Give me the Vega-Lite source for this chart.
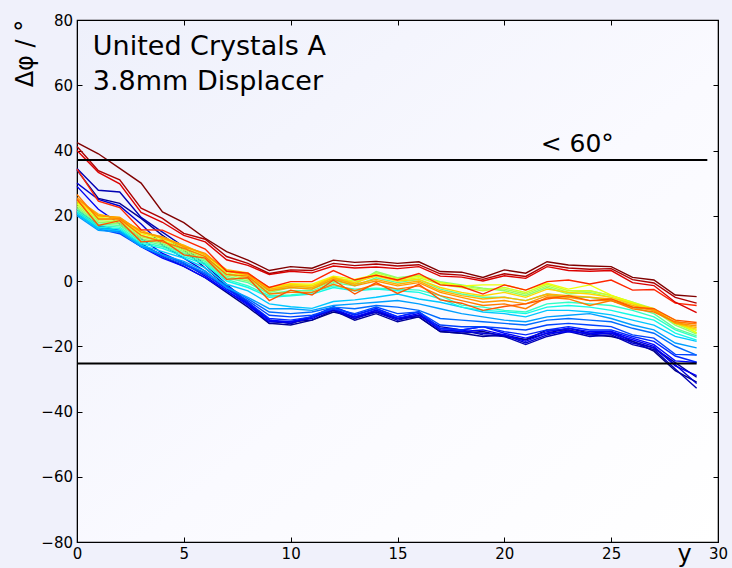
{
"$schema": "https://vega.github.io/schema/vega-lite/v6.json",
"width": 641, "height": 522,
"autosize": {"type": "none"},
"padding": {"left": 77, "top": 20, "right": 14, "bottom": 26},
"background": "#f0f1fb",
"config": {
 "view": {"stroke": "black", "strokeWidth": 1.2, "fill": {"gradient": "linear", "x1": 0, "y1": 0, "x2": 1, "y2": 1, "stops": [{"offset": 0, "color": "#eef0fb"}, {"offset": 0.55, "color": "#fafaff"}, {"offset": 1, "color": "#ffffff"}]}},
 "axis": {"labelFont": "DejaVu Sans", "labelFontSize": 15, "labelColor": "black", "titleFont": "DejaVu Sans", "titleFontSize": 24, "titleFontWeight": "normal", "titleColor": "black", "grid": false, "domainColor": "black", "tickColor": "black", "tickSize": -5, "tickWidth": 1, "labelPadding": 9.5, "labelFlush": false},
 "text": {"font": "DejaVu Sans", "color": "black"}
},
"resolve": {"axis": {"x": "independent", "y": "independent"}},
"layer": [
{
 "data": {"values": [
{"c":0,"x":0,"y":21.0},{"c":0,"x":1,"y":16.5},{"c":0,"x":2,"y":15.0},{"c":0,"x":3,"y":11.5},{"c":0,"x":4,"y":7.5},{"c":0,"x":5,"y":4.5},{"c":0,"x":6,"y":1.0},{"c":0,"x":7,"y":-3.5},{"c":0,"x":8,"y":-8.0},{"c":0,"x":9,"y":-13.0},{"c":0,"x":10,"y":-12.5},{"c":0,"x":11,"y":-12.0},{"c":0,"x":12,"y":-9.5},{"c":0,"x":13,"y":-11.0},{"c":0,"x":14,"y":-9.5},{"c":0,"x":15,"y":-11.5},{"c":0,"x":16,"y":-11.0},{"c":0,"x":17,"y":-15.5},{"c":0,"x":18,"y":-16.0},{"c":0,"x":19,"y":-15.5},{"c":0,"x":20,"y":-17.0},{"c":0,"x":21,"y":-18.0},{"c":0,"x":22,"y":-15.0},{"c":0,"x":23,"y":-15.0},{"c":0,"x":24,"y":-16.5},{"c":0,"x":25,"y":-17.0},{"c":0,"x":26,"y":-18.5},{"c":0,"x":27,"y":-21.5},{"c":0,"x":28,"y":-27.5},{"c":0,"x":29,"y":-31.0},
{"c":0.02,"x":0,"y":34.0},{"c":0.02,"x":1,"y":25.3},{"c":0.02,"x":2,"y":23.8},{"c":0.02,"x":3,"y":19.2},{"c":0.02,"x":4,"y":14.0},{"c":0.02,"x":5,"y":9.5},{"c":0.02,"x":6,"y":4.0},{"c":0.02,"x":7,"y":-1.5},{"c":0.02,"x":8,"y":-7.0},{"c":0.02,"x":9,"y":-13.0},{"c":0.02,"x":10,"y":-13.5},{"c":0.02,"x":11,"y":-12.0},{"c":0.02,"x":12,"y":-9.0},{"c":0.02,"x":13,"y":-12.0},{"c":0.02,"x":14,"y":-10.0},{"c":0.02,"x":15,"y":-12.5},{"c":0.02,"x":16,"y":-11.0},{"c":0.02,"x":17,"y":-15.5},{"c":0.02,"x":18,"y":-16.0},{"c":0.02,"x":19,"y":-17.0},{"c":0.02,"x":20,"y":-16.5},{"c":0.02,"x":21,"y":-18.0},{"c":0.02,"x":22,"y":-16.0},{"c":0.02,"x":23,"y":-14.5},{"c":0.02,"x":24,"y":-16.0},{"c":0.02,"x":25,"y":-15.5},{"c":0.02,"x":26,"y":-18.5},{"c":0.02,"x":27,"y":-20.5},{"c":0.02,"x":28,"y":-25.0},{"c":0.02,"x":29,"y":-29.5},
{"c":0.045,"x":0,"y":34.5},{"c":0.045,"x":1,"y":27.8},{"c":0.045,"x":2,"y":27.3},{"c":0.045,"x":3,"y":19.5},{"c":0.045,"x":4,"y":15.0},{"c":0.045,"x":5,"y":10.5},{"c":0.045,"x":6,"y":5.0},{"c":0.045,"x":7,"y":-1.0},{"c":0.045,"x":8,"y":-6.5},{"c":0.045,"x":9,"y":-12.0},{"c":0.045,"x":10,"y":-13.0},{"c":0.045,"x":11,"y":-11.0},{"c":0.045,"x":12,"y":-8.5},{"c":0.045,"x":13,"y":-11.5},{"c":0.045,"x":14,"y":-9.0},{"c":0.045,"x":15,"y":-11.5},{"c":0.045,"x":16,"y":-10.5},{"c":0.045,"x":17,"y":-14.0},{"c":0.045,"x":18,"y":-15.0},{"c":0.045,"x":19,"y":-16.5},{"c":0.045,"x":20,"y":-17.0},{"c":0.045,"x":21,"y":-19.5},{"c":0.045,"x":22,"y":-17.0},{"c":0.045,"x":23,"y":-15.5},{"c":0.045,"x":24,"y":-17.0},{"c":0.045,"x":25,"y":-16.5},{"c":0.045,"x":26,"y":-19.5},{"c":0.045,"x":27,"y":-21.0},{"c":0.045,"x":28,"y":-27.0},{"c":0.045,"x":29,"y":-32.9},
{"c":0.07,"x":0,"y":30.0},{"c":0.07,"x":1,"y":25.0},{"c":0.07,"x":2,"y":23.0},{"c":0.07,"x":3,"y":17.5},{"c":0.07,"x":4,"y":11.0},{"c":0.07,"x":5,"y":7.0},{"c":0.07,"x":6,"y":3.0},{"c":0.07,"x":7,"y":-2.0},{"c":0.07,"x":8,"y":-7.0},{"c":0.07,"x":9,"y":-12.0},{"c":0.07,"x":10,"y":-13.0},{"c":0.07,"x":11,"y":-11.0},{"c":0.07,"x":12,"y":-9.0},{"c":0.07,"x":13,"y":-11.5},{"c":0.07,"x":14,"y":-9.5},{"c":0.07,"x":15,"y":-12.0},{"c":0.07,"x":16,"y":-10.5},{"c":0.07,"x":17,"y":-15.0},{"c":0.07,"x":18,"y":-15.5},{"c":0.07,"x":19,"y":-16.0},{"c":0.07,"x":20,"y":-16.5},{"c":0.07,"x":21,"y":-19.0},{"c":0.07,"x":22,"y":-16.5},{"c":0.07,"x":23,"y":-15.0},{"c":0.07,"x":24,"y":-16.5},{"c":0.07,"x":25,"y":-16.0},{"c":0.07,"x":26,"y":-19.0},{"c":0.07,"x":27,"y":-20.5},{"c":0.07,"x":28,"y":-25.7},{"c":0.07,"x":29,"y":-31.4},
{"c":0.1,"x":0,"y":29.0},{"c":0.1,"x":1,"y":22.0},{"c":0.1,"x":2,"y":17.5},{"c":0.1,"x":3,"y":13.0},{"c":0.1,"x":4,"y":8.5},{"c":0.1,"x":5,"y":5.5},{"c":0.1,"x":6,"y":1.5},{"c":0.1,"x":7,"y":-3.0},{"c":0.1,"x":8,"y":-7.5},{"c":0.1,"x":9,"y":-12.5},{"c":0.1,"x":10,"y":-12.5},{"c":0.1,"x":11,"y":-11.5},{"c":0.1,"x":12,"y":-8.5},{"c":0.1,"x":13,"y":-11.0},{"c":0.1,"x":14,"y":-9.0},{"c":0.1,"x":15,"y":-11.5},{"c":0.1,"x":16,"y":-10.0},{"c":0.1,"x":17,"y":-15.0},{"c":0.1,"x":18,"y":-15.5},{"c":0.1,"x":19,"y":-15.0},{"c":0.1,"x":20,"y":-16.5},{"c":0.1,"x":21,"y":-18.5},{"c":0.1,"x":22,"y":-16.0},{"c":0.1,"x":23,"y":-15.5},{"c":0.1,"x":24,"y":-16.0},{"c":0.1,"x":25,"y":-16.0},{"c":0.1,"x":26,"y":-18.0},{"c":0.1,"x":27,"y":-20.0},{"c":0.1,"x":28,"y":-26.0},{"c":0.1,"x":29,"y":-29.0},
{"c":0.13,"x":0,"y":22.0},{"c":0.13,"x":1,"y":17.0},{"c":0.13,"x":2,"y":15.0},{"c":0.13,"x":3,"y":10.5},{"c":0.13,"x":4,"y":7.0},{"c":0.13,"x":5,"y":4.5},{"c":0.13,"x":6,"y":1.0},{"c":0.13,"x":7,"y":-3.0},{"c":0.13,"x":8,"y":-7.0},{"c":0.13,"x":9,"y":-12.0},{"c":0.13,"x":10,"y":-12.5},{"c":0.13,"x":11,"y":-10.9},{"c":0.13,"x":12,"y":-7.9},{"c":0.13,"x":13,"y":-10.4},{"c":0.13,"x":14,"y":-8.4},{"c":0.13,"x":15,"y":-10.9},{"c":0.13,"x":16,"y":-9.4},{"c":0.13,"x":17,"y":-14.5},{"c":0.13,"x":18,"y":-15.0},{"c":0.13,"x":19,"y":-14.0},{"c":0.13,"x":20,"y":-16.0},{"c":0.13,"x":21,"y":-17.5},{"c":0.13,"x":22,"y":-15.5},{"c":0.13,"x":23,"y":-14.5},{"c":0.13,"x":24,"y":-15.5},{"c":0.13,"x":25,"y":-15.5},{"c":0.13,"x":26,"y":-17.5},{"c":0.13,"x":27,"y":-19.5},{"c":0.13,"x":28,"y":-24.5},{"c":0.13,"x":29,"y":-25.0},
{"c":0.16,"x":0,"y":21.5},{"c":0.16,"x":1,"y":17.0},{"c":0.16,"x":2,"y":15.5},{"c":0.16,"x":3,"y":11.0},{"c":0.16,"x":4,"y":8.0},{"c":0.16,"x":5,"y":5.5},{"c":0.16,"x":6,"y":2.0},{"c":0.16,"x":7,"y":-2.5},{"c":0.16,"x":8,"y":-6.5},{"c":0.16,"x":9,"y":-11.5},{"c":0.16,"x":10,"y":-12.0},{"c":0.16,"x":11,"y":-11.0},{"c":0.16,"x":12,"y":-8.0},{"c":0.16,"x":13,"y":-10.5},{"c":0.16,"x":14,"y":-8.5},{"c":0.16,"x":15,"y":-11.0},{"c":0.16,"x":16,"y":-9.5},{"c":0.16,"x":17,"y":-14.5},{"c":0.16,"x":18,"y":-15.0},{"c":0.16,"x":19,"y":-14.0},{"c":0.16,"x":20,"y":-15.5},{"c":0.16,"x":21,"y":-16.5},{"c":0.16,"x":22,"y":-15.0},{"c":0.16,"x":23,"y":-14.0},{"c":0.16,"x":24,"y":-15.0},{"c":0.16,"x":25,"y":-15.0},{"c":0.16,"x":26,"y":-17.0},{"c":0.16,"x":27,"y":-18.5},{"c":0.16,"x":28,"y":-23.0},{"c":0.16,"x":29,"y":-24.9},
{"c":0.19,"x":0,"y":20.5},{"c":0.19,"x":1,"y":16.0},{"c":0.19,"x":2,"y":14.5},{"c":0.19,"x":3,"y":10.5},{"c":0.19,"x":4,"y":7.5},{"c":0.19,"x":5,"y":5.0},{"c":0.19,"x":6,"y":2.0},{"c":0.19,"x":7,"y":-2.0},{"c":0.19,"x":8,"y":-6.0},{"c":0.19,"x":9,"y":-10.5},{"c":0.19,"x":10,"y":-11.0},{"c":0.19,"x":11,"y":-10.5},{"c":0.19,"x":12,"y":-8.5},{"c":0.19,"x":13,"y":-10.0},{"c":0.19,"x":14,"y":-8.0},{"c":0.19,"x":15,"y":-10.0},{"c":0.19,"x":16,"y":-9.5},{"c":0.19,"x":17,"y":-13.5},{"c":0.19,"x":18,"y":-14.0},{"c":0.19,"x":19,"y":-14.0},{"c":0.19,"x":20,"y":-14.5},{"c":0.19,"x":21,"y":-15.0},{"c":0.19,"x":22,"y":-13.5},{"c":0.19,"x":23,"y":-13.0},{"c":0.19,"x":24,"y":-13.5},{"c":0.19,"x":25,"y":-14.0},{"c":0.19,"x":26,"y":-16.5},{"c":0.19,"x":27,"y":-17.5},{"c":0.19,"x":28,"y":-22.5},{"c":0.19,"x":29,"y":-22.7},
{"c":0.23,"x":0,"y":21.0},{"c":0.23,"x":1,"y":16.5},{"c":0.23,"x":2,"y":15.0},{"c":0.23,"x":3,"y":11.0},{"c":0.23,"x":4,"y":8.0},{"c":0.23,"x":5,"y":5.5},{"c":0.23,"x":6,"y":2.5},{"c":0.23,"x":7,"y":-1.5},{"c":0.23,"x":8,"y":-5.5},{"c":0.23,"x":9,"y":-9.5},{"c":0.23,"x":10,"y":-10.0},{"c":0.23,"x":11,"y":-9.5},{"c":0.23,"x":12,"y":-8.0},{"c":0.23,"x":13,"y":-8.5},{"c":0.23,"x":14,"y":-7.5},{"c":0.23,"x":15,"y":-8.0},{"c":0.23,"x":16,"y":-9.0},{"c":0.23,"x":17,"y":-11.5},{"c":0.23,"x":18,"y":-12.0},{"c":0.23,"x":19,"y":-12.5},{"c":0.23,"x":20,"y":-13.0},{"c":0.23,"x":21,"y":-13.5},{"c":0.23,"x":22,"y":-12.0},{"c":0.23,"x":23,"y":-11.5},{"c":0.23,"x":24,"y":-12.0},{"c":0.23,"x":25,"y":-12.5},{"c":0.23,"x":26,"y":-14.5},{"c":0.23,"x":27,"y":-16.0},{"c":0.23,"x":28,"y":-20.0},{"c":0.23,"x":29,"y":-22.7},
{"c":0.28,"x":0,"y":20.0},{"c":0.28,"x":1,"y":15.5},{"c":0.28,"x":2,"y":15.0},{"c":0.28,"x":3,"y":10.5},{"c":0.28,"x":4,"y":8.0},{"c":0.28,"x":5,"y":6.0},{"c":0.28,"x":6,"y":3.0},{"c":0.28,"x":7,"y":-2.0},{"c":0.28,"x":8,"y":-5.0},{"c":0.28,"x":9,"y":-8.5},{"c":0.28,"x":10,"y":-8.5},{"c":0.28,"x":11,"y":-9.0},{"c":0.28,"x":12,"y":-7.5},{"c":0.28,"x":13,"y":-7.0},{"c":0.28,"x":14,"y":-6.5},{"c":0.28,"x":15,"y":-6.0},{"c":0.28,"x":16,"y":-7.0},{"c":0.28,"x":17,"y":-8.5},{"c":0.28,"x":18,"y":-10.0},{"c":0.28,"x":19,"y":-11.0},{"c":0.28,"x":20,"y":-12.0},{"c":0.28,"x":21,"y":-12.5},{"c":0.28,"x":22,"y":-11.0},{"c":0.28,"x":23,"y":-10.5},{"c":0.28,"x":24,"y":-10.0},{"c":0.28,"x":25,"y":-11.5},{"c":0.28,"x":26,"y":-13.5},{"c":0.28,"x":27,"y":-15.0},{"c":0.28,"x":28,"y":-19.0},{"c":0.28,"x":29,"y":-20.5},
{"c":0.32,"x":0,"y":20.5},{"c":0.32,"x":1,"y":16.0},{"c":0.32,"x":2,"y":15.5},{"c":0.32,"x":3,"y":11.0},{"c":0.32,"x":4,"y":9.0},{"c":0.32,"x":5,"y":7.0},{"c":0.32,"x":6,"y":4.0},{"c":0.32,"x":7,"y":-1.0},{"c":0.32,"x":8,"y":-3.0},{"c":0.32,"x":9,"y":-7.0},{"c":0.32,"x":10,"y":-7.9},{"c":0.32,"x":11,"y":-8.4},{"c":0.32,"x":12,"y":-6.3},{"c":0.32,"x":13,"y":-5.8},{"c":0.32,"x":14,"y":-5.0},{"c":0.32,"x":15,"y":-4.0},{"c":0.32,"x":16,"y":-5.5},{"c":0.32,"x":17,"y":-6.5},{"c":0.32,"x":18,"y":-8.0},{"c":0.32,"x":19,"y":-9.5},{"c":0.32,"x":20,"y":-10.0},{"c":0.32,"x":21,"y":-11.0},{"c":0.32,"x":22,"y":-9.0},{"c":0.32,"x":23,"y":-9.0},{"c":0.32,"x":24,"y":-9.5},{"c":0.32,"x":25,"y":-10.4},{"c":0.32,"x":26,"y":-12.0},{"c":0.32,"x":27,"y":-13.5},{"c":0.32,"x":28,"y":-17.0},{"c":0.32,"x":29,"y":-18.5},
{"c":0.37,"x":0,"y":21.0},{"c":0.37,"x":1,"y":16.5},{"c":0.37,"x":2,"y":16.0},{"c":0.37,"x":3,"y":11.5},{"c":0.37,"x":4,"y":10.0},{"c":0.37,"x":5,"y":7.5},{"c":0.37,"x":6,"y":5.0},{"c":0.37,"x":7,"y":0.0},{"c":0.37,"x":8,"y":-2.0},{"c":0.37,"x":9,"y":-5.0},{"c":0.37,"x":10,"y":-4.5},{"c":0.37,"x":11,"y":-4.0},{"c":0.37,"x":12,"y":-2.0},{"c":0.37,"x":13,"y":-3.0},{"c":0.37,"x":14,"y":-2.5},{"c":0.37,"x":15,"y":-3.0},{"c":0.37,"x":16,"y":-3.5},{"c":0.37,"x":17,"y":-5.5},{"c":0.37,"x":18,"y":-8.0},{"c":0.37,"x":19,"y":-9.0},{"c":0.37,"x":20,"y":-9.4},{"c":0.37,"x":21,"y":-10.0},{"c":0.37,"x":22,"y":-8.0},{"c":0.37,"x":23,"y":-7.5},{"c":0.37,"x":24,"y":-8.0},{"c":0.37,"x":25,"y":-9.0},{"c":0.37,"x":26,"y":-10.5},{"c":0.37,"x":27,"y":-12.0},{"c":0.37,"x":28,"y":-16.0},{"c":0.37,"x":29,"y":-18.1},
{"c":0.41,"x":0,"y":21.5},{"c":0.41,"x":1,"y":17.0},{"c":0.41,"x":2,"y":16.5},{"c":0.41,"x":3,"y":12.0},{"c":0.41,"x":4,"y":10.5},{"c":0.41,"x":5,"y":8.0},{"c":0.41,"x":6,"y":5.5},{"c":0.41,"x":7,"y":0.5},{"c":0.41,"x":8,"y":-1.5},{"c":0.41,"x":9,"y":-4.5},{"c":0.41,"x":10,"y":-4.3},{"c":0.41,"x":11,"y":-3.5},{"c":0.41,"x":12,"y":-1.5},{"c":0.41,"x":13,"y":-2.5},{"c":0.41,"x":14,"y":-2.2},{"c":0.41,"x":15,"y":-2.5},{"c":0.41,"x":16,"y":-2.8},{"c":0.41,"x":17,"y":-4.5},{"c":0.41,"x":18,"y":-7.4},{"c":0.41,"x":19,"y":-8.0},{"c":0.41,"x":20,"y":-9.0},{"c":0.41,"x":21,"y":-9.5},{"c":0.41,"x":22,"y":-7.0},{"c":0.41,"x":23,"y":-6.5},{"c":0.41,"x":24,"y":-7.0},{"c":0.41,"x":25,"y":-7.5},{"c":0.41,"x":26,"y":-9.0},{"c":0.41,"x":27,"y":-11.0},{"c":0.41,"x":28,"y":-15.0},{"c":0.41,"x":29,"y":-17.3},
{"c":0.46,"x":0,"y":22.0},{"c":0.46,"x":1,"y":17.5},{"c":0.46,"x":2,"y":17.0},{"c":0.46,"x":3,"y":12.5},{"c":0.46,"x":4,"y":11.0},{"c":0.46,"x":5,"y":8.5},{"c":0.46,"x":6,"y":6.0},{"c":0.46,"x":7,"y":1.0},{"c":0.46,"x":8,"y":-0.5},{"c":0.46,"x":9,"y":-4.0},{"c":0.46,"x":10,"y":-3.0},{"c":0.46,"x":11,"y":-3.0},{"c":0.46,"x":12,"y":-0.5},{"c":0.46,"x":13,"y":-1.5},{"c":0.46,"x":14,"y":1.0},{"c":0.46,"x":15,"y":-0.5},{"c":0.46,"x":16,"y":0.5},{"c":0.46,"x":17,"y":-2.5},{"c":0.46,"x":18,"y":-4.0},{"c":0.46,"x":19,"y":-5.0},{"c":0.46,"x":20,"y":-5.0},{"c":0.46,"x":21,"y":-6.0},{"c":0.46,"x":22,"y":-4.0},{"c":0.46,"x":23,"y":-5.0},{"c":0.46,"x":24,"y":-5.0},{"c":0.46,"x":25,"y":-6.0},{"c":0.46,"x":26,"y":-8.0},{"c":0.46,"x":27,"y":-10.0},{"c":0.46,"x":28,"y":-14.5},{"c":0.46,"x":29,"y":-16.8},
{"c":0.52,"x":0,"y":22.5},{"c":0.52,"x":1,"y":18.0},{"c":0.52,"x":2,"y":17.5},{"c":0.52,"x":3,"y":13.0},{"c":0.52,"x":4,"y":11.5},{"c":0.52,"x":5,"y":9.0},{"c":0.52,"x":6,"y":6.5},{"c":0.52,"x":7,"y":1.5},{"c":0.52,"x":8,"y":0.0},{"c":0.52,"x":9,"y":-3.5},{"c":0.52,"x":10,"y":-2.0},{"c":0.52,"x":11,"y":-2.5},{"c":0.52,"x":12,"y":0.0},{"c":0.52,"x":13,"y":-1.0},{"c":0.52,"x":14,"y":2.9},{"c":0.52,"x":15,"y":1.0},{"c":0.52,"x":16,"y":1.8},{"c":0.52,"x":17,"y":-0.2},{"c":0.52,"x":18,"y":-1.2},{"c":0.52,"x":19,"y":-2.2},{"c":0.52,"x":20,"y":-3.0},{"c":0.52,"x":21,"y":-4.5},{"c":0.52,"x":22,"y":-2.0},{"c":0.52,"x":23,"y":-4.0},{"c":0.52,"x":24,"y":-3.5},{"c":0.52,"x":25,"y":-5.0},{"c":0.52,"x":26,"y":-7.0},{"c":0.52,"x":27,"y":-9.0},{"c":0.52,"x":28,"y":-13.5},{"c":0.52,"x":29,"y":-16.3},
{"c":0.56,"x":0,"y":23.0},{"c":0.56,"x":1,"y":18.5},{"c":0.56,"x":2,"y":18.0},{"c":0.56,"x":3,"y":13.5},{"c":0.56,"x":4,"y":12.0},{"c":0.56,"x":5,"y":9.5},{"c":0.56,"x":6,"y":7.0},{"c":0.56,"x":7,"y":2.0},{"c":0.56,"x":8,"y":0.5},{"c":0.56,"x":9,"y":-3.0},{"c":0.56,"x":10,"y":-1.5},{"c":0.56,"x":11,"y":-2.0},{"c":0.56,"x":12,"y":0.5},{"c":0.56,"x":13,"y":-0.5},{"c":0.56,"x":14,"y":2.5},{"c":0.56,"x":15,"y":0.8},{"c":0.56,"x":16,"y":1.5},{"c":0.56,"x":17,"y":-0.5},{"c":0.56,"x":18,"y":-1.5},{"c":0.56,"x":19,"y":-2.5},{"c":0.56,"x":20,"y":-2.5},{"c":0.56,"x":21,"y":-4.0},{"c":0.56,"x":22,"y":-1.5},{"c":0.56,"x":23,"y":-3.5},{"c":0.56,"x":24,"y":-3.0},{"c":0.56,"x":25,"y":-4.5},{"c":0.56,"x":26,"y":-6.5},{"c":0.56,"x":27,"y":-8.5},{"c":0.56,"x":28,"y":-13.0},{"c":0.56,"x":29,"y":-15.8},
{"c":0.6,"x":0,"y":23.5},{"c":0.6,"x":1,"y":19.0},{"c":0.6,"x":2,"y":18.5},{"c":0.6,"x":3,"y":14.0},{"c":0.6,"x":4,"y":12.5},{"c":0.6,"x":5,"y":10.0},{"c":0.6,"x":6,"y":7.5},{"c":0.6,"x":7,"y":2.5},{"c":0.6,"x":8,"y":1.0},{"c":0.6,"x":9,"y":-2.5},{"c":0.6,"x":10,"y":-1.2},{"c":0.6,"x":11,"y":-1.5},{"c":0.6,"x":12,"y":1.0},{"c":0.6,"x":13,"y":0.0},{"c":0.6,"x":14,"y":1.8},{"c":0.6,"x":15,"y":0.2},{"c":0.6,"x":16,"y":1.0},{"c":0.6,"x":17,"y":-1.0},{"c":0.6,"x":18,"y":-2.0},{"c":0.6,"x":19,"y":-3.0},{"c":0.6,"x":20,"y":-2.0},{"c":0.6,"x":21,"y":-3.5},{"c":0.6,"x":22,"y":-1.0},{"c":0.6,"x":23,"y":-3.0},{"c":0.6,"x":24,"y":-3.0},{"c":0.6,"x":25,"y":-4.5},{"c":0.6,"x":26,"y":-6.5},{"c":0.6,"x":27,"y":-9.0},{"c":0.6,"x":28,"y":-13.0},{"c":0.6,"x":29,"y":-15.2},
{"c":0.64,"x":0,"y":24.0},{"c":0.64,"x":1,"y":19.5},{"c":0.64,"x":2,"y":19.0},{"c":0.64,"x":3,"y":14.5},{"c":0.64,"x":4,"y":13.0},{"c":0.64,"x":5,"y":10.5},{"c":0.64,"x":6,"y":8.0},{"c":0.64,"x":7,"y":3.0},{"c":0.64,"x":8,"y":1.5},{"c":0.64,"x":9,"y":-2.0},{"c":0.64,"x":10,"y":-0.8},{"c":0.64,"x":11,"y":-1.0},{"c":0.64,"x":12,"y":1.5},{"c":0.64,"x":13,"y":0.5},{"c":0.64,"x":14,"y":2.0},{"c":0.64,"x":15,"y":0.5},{"c":0.64,"x":16,"y":1.5},{"c":0.64,"x":17,"y":-0.5},{"c":0.64,"x":18,"y":-1.5},{"c":0.64,"x":19,"y":-1.2},{"c":0.64,"x":20,"y":-1.2},{"c":0.64,"x":21,"y":-2.8},{"c":0.64,"x":22,"y":-0.7},{"c":0.64,"x":23,"y":-2.5},{"c":0.64,"x":24,"y":-1.2},{"c":0.64,"x":25,"y":-4.3},{"c":0.64,"x":26,"y":-6.8},{"c":0.64,"x":27,"y":-8.9},{"c":0.64,"x":28,"y":-12.0},{"c":0.64,"x":29,"y":-16.0},
{"c":0.68,"x":0,"y":24.5},{"c":0.68,"x":1,"y":20.0},{"c":0.68,"x":2,"y":19.5},{"c":0.68,"x":3,"y":15.0},{"c":0.68,"x":4,"y":13.5},{"c":0.68,"x":5,"y":10.8},{"c":0.68,"x":6,"y":8.2},{"c":0.68,"x":7,"y":3.2},{"c":0.68,"x":8,"y":2.0},{"c":0.68,"x":9,"y":-2.0},{"c":0.68,"x":10,"y":-1.0},{"c":0.68,"x":11,"y":-1.5},{"c":0.68,"x":12,"y":1.2},{"c":0.68,"x":13,"y":-0.5},{"c":0.68,"x":14,"y":1.5},{"c":0.68,"x":15,"y":0.0},{"c":0.68,"x":16,"y":0.5},{"c":0.68,"x":17,"y":-2.0},{"c":0.68,"x":18,"y":-3.5},{"c":0.68,"x":19,"y":-4.5},{"c":0.68,"x":20,"y":-3.5},{"c":0.68,"x":21,"y":-5.0},{"c":0.68,"x":22,"y":-2.5},{"c":0.68,"x":23,"y":-3.5},{"c":0.68,"x":24,"y":-4.0},{"c":0.68,"x":25,"y":-5.0},{"c":0.68,"x":26,"y":-7.0},{"c":0.68,"x":27,"y":-8.5},{"c":0.68,"x":28,"y":-13.0},{"c":0.68,"x":29,"y":-14.8},
{"c":0.72,"x":0,"y":25.0},{"c":0.72,"x":1,"y":20.5},{"c":0.72,"x":2,"y":19.0},{"c":0.72,"x":3,"y":15.5},{"c":0.72,"x":4,"y":13.0},{"c":0.72,"x":5,"y":11.0},{"c":0.72,"x":6,"y":8.0},{"c":0.72,"x":7,"y":3.5},{"c":0.72,"x":8,"y":2.5},{"c":0.72,"x":9,"y":-2.5},{"c":0.72,"x":10,"y":-1.5},{"c":0.72,"x":11,"y":-2.0},{"c":0.72,"x":12,"y":1.0},{"c":0.72,"x":13,"y":-1.0},{"c":0.72,"x":14,"y":0.5},{"c":0.72,"x":15,"y":-1.0},{"c":0.72,"x":16,"y":0.0},{"c":0.72,"x":17,"y":-3.0},{"c":0.72,"x":18,"y":-4.5},{"c":0.72,"x":19,"y":-5.5},{"c":0.72,"x":20,"y":-5.0},{"c":0.72,"x":21,"y":-6.0},{"c":0.72,"x":22,"y":-4.0},{"c":0.72,"x":23,"y":-4.5},{"c":0.72,"x":24,"y":-5.0},{"c":0.72,"x":25,"y":-5.5},{"c":0.72,"x":26,"y":-7.5},{"c":0.72,"x":27,"y":-9.0},{"c":0.72,"x":28,"y":-13.0},{"c":0.72,"x":29,"y":-14.3},
{"c":0.75,"x":0,"y":25.5},{"c":0.75,"x":1,"y":20.0},{"c":0.75,"x":2,"y":19.5},{"c":0.75,"x":3,"y":15.0},{"c":0.75,"x":4,"y":13.5},{"c":0.75,"x":5,"y":10.5},{"c":0.75,"x":6,"y":8.5},{"c":0.75,"x":7,"y":3.0},{"c":0.75,"x":8,"y":2.0},{"c":0.75,"x":9,"y":-3.0},{"c":0.75,"x":10,"y":-2.0},{"c":0.75,"x":11,"y":-2.5},{"c":0.75,"x":12,"y":0.5},{"c":0.75,"x":13,"y":-1.5},{"c":0.75,"x":14,"y":0.0},{"c":0.75,"x":15,"y":-1.5},{"c":0.75,"x":16,"y":-0.5},{"c":0.75,"x":17,"y":-3.5},{"c":0.75,"x":18,"y":-5.0},{"c":0.75,"x":19,"y":-6.5},{"c":0.75,"x":20,"y":-6.0},{"c":0.75,"x":21,"y":-7.0},{"c":0.75,"x":22,"y":-4.5},{"c":0.75,"x":23,"y":-5.0},{"c":0.75,"x":24,"y":-6.0},{"c":0.75,"x":25,"y":-6.0},{"c":0.75,"x":26,"y":-8.0},{"c":0.75,"x":27,"y":-9.0},{"c":0.75,"x":28,"y":-12.8},{"c":0.75,"x":29,"y":-13.8},
{"c":0.78,"x":0,"y":26.5},{"c":0.78,"x":1,"y":19.0},{"c":0.78,"x":2,"y":19.0},{"c":0.78,"x":3,"y":14.0},{"c":0.78,"x":4,"y":12.0},{"c":0.78,"x":5,"y":10.0},{"c":0.78,"x":6,"y":7.5},{"c":0.78,"x":7,"y":2.0},{"c":0.78,"x":8,"y":1.5},{"c":0.78,"x":9,"y":-4.0},{"c":0.78,"x":10,"y":-3.5},{"c":0.78,"x":11,"y":-3.5},{"c":0.78,"x":12,"y":-1.0},{"c":0.78,"x":13,"y":-3.0},{"c":0.78,"x":14,"y":-1.0},{"c":0.78,"x":15,"y":-2.5},{"c":0.78,"x":16,"y":-1.5},{"c":0.78,"x":17,"y":-4.5},{"c":0.78,"x":18,"y":-6.0},{"c":0.78,"x":19,"y":-7.5},{"c":0.78,"x":20,"y":-7.0},{"c":0.78,"x":21,"y":-8.5},{"c":0.78,"x":22,"y":-5.0},{"c":0.78,"x":23,"y":-5.5},{"c":0.78,"x":24,"y":-7.5},{"c":0.78,"x":25,"y":-6.0},{"c":0.78,"x":26,"y":-8.5},{"c":0.78,"x":27,"y":-9.5},{"c":0.78,"x":28,"y":-12.5},{"c":0.78,"x":29,"y":-13.2},
{"c":0.82,"x":0,"y":25.0},{"c":0.82,"x":1,"y":17.0},{"c":0.82,"x":2,"y":18.5},{"c":0.82,"x":3,"y":12.0},{"c":0.82,"x":4,"y":12.5},{"c":0.82,"x":5,"y":8.0},{"c":0.82,"x":6,"y":7.0},{"c":0.82,"x":7,"y":0.5},{"c":0.82,"x":8,"y":1.0},{"c":0.82,"x":9,"y":-6.0},{"c":0.82,"x":10,"y":-2.8},{"c":0.82,"x":11,"y":-4.3},{"c":0.82,"x":12,"y":0.3},{"c":0.82,"x":13,"y":-4.0},{"c":0.82,"x":14,"y":-0.5},{"c":0.82,"x":15,"y":-3.8},{"c":0.82,"x":16,"y":-1.0},{"c":0.82,"x":17,"y":-5.8},{"c":0.82,"x":18,"y":-6.8},{"c":0.82,"x":19,"y":-9.0},{"c":0.82,"x":20,"y":-7.8},{"c":0.82,"x":21,"y":-7.0},{"c":0.82,"x":22,"y":-5.5},{"c":0.82,"x":23,"y":-4.5},{"c":0.82,"x":24,"y":-6.0},{"c":0.82,"x":25,"y":-5.5},{"c":0.82,"x":26,"y":-8.0},{"c":0.82,"x":27,"y":-8.5},{"c":0.82,"x":28,"y":-12.0},{"c":0.82,"x":29,"y":-12.7},
{"c":0.87,"x":0,"y":34.3},{"c":0.87,"x":1,"y":24.5},{"c":0.87,"x":2,"y":22.5},{"c":0.87,"x":3,"y":15.7},{"c":0.87,"x":4,"y":15.6},{"c":0.87,"x":5,"y":12.6},{"c":0.87,"x":6,"y":9.8},{"c":0.87,"x":7,"y":3.0},{"c":0.87,"x":8,"y":2.4},{"c":0.87,"x":9,"y":-2.0},{"c":0.87,"x":10,"y":-0.2},{"c":0.87,"x":11,"y":-0.2},{"c":0.87,"x":12,"y":3.2},{"c":0.87,"x":13,"y":0.3},{"c":0.87,"x":14,"y":1.8},{"c":0.87,"x":15,"y":0.3},{"c":0.87,"x":16,"y":2.3},{"c":0.87,"x":17,"y":-1.2},{"c":0.87,"x":18,"y":-1.7},{"c":0.87,"x":19,"y":-4.0},{"c":0.87,"x":20,"y":-1.2},{"c":0.87,"x":21,"y":-2.8},{"c":0.87,"x":22,"y":-0.2},{"c":0.87,"x":23,"y":0.3},{"c":0.87,"x":24,"y":-0.9},{"c":0.87,"x":25,"y":0.3},{"c":0.87,"x":26,"y":-2.8},{"c":0.87,"x":27,"y":-2.6},{"c":0.87,"x":28,"y":-6.8},{"c":0.87,"x":29,"y":-7.5},
{"c":0.92,"x":0,"y":40.0},{"c":0.92,"x":1,"y":33.3},{"c":0.92,"x":2,"y":29.8},{"c":0.92,"x":3,"y":21.0},{"c":0.92,"x":4,"y":18.0},{"c":0.92,"x":5,"y":14.0},{"c":0.92,"x":6,"y":12.0},{"c":0.92,"x":7,"y":6.5},{"c":0.92,"x":8,"y":4.8},{"c":0.92,"x":9,"y":2.0},{"c":0.92,"x":10,"y":3.0},{"c":0.92,"x":11,"y":2.5},{"c":0.92,"x":12,"y":4.6},{"c":0.92,"x":13,"y":4.0},{"c":0.92,"x":14,"y":4.3},{"c":0.92,"x":15,"y":3.8},{"c":0.92,"x":16,"y":4.4},{"c":0.92,"x":17,"y":1.5},{"c":0.92,"x":18,"y":1.2},{"c":0.92,"x":19,"y":0.0},{"c":0.92,"x":20,"y":1.6},{"c":0.92,"x":21,"y":0.8},{"c":0.92,"x":22,"y":4.4},{"c":0.92,"x":23,"y":3.2},{"c":0.92,"x":24,"y":3.0},{"c":0.92,"x":25,"y":3.2},{"c":0.92,"x":26,"y":-0.5},{"c":0.92,"x":27,"y":-1.4},{"c":0.92,"x":28,"y":-6.5},{"c":0.92,"x":29,"y":-9.7},
{"c":0.96,"x":0,"y":41.2},{"c":0.96,"x":1,"y":33.8},{"c":0.96,"x":2,"y":31.0},{"c":0.96,"x":3,"y":22.3},{"c":0.96,"x":4,"y":19.2},{"c":0.96,"x":5,"y":14.6},{"c":0.96,"x":6,"y":12.8},{"c":0.96,"x":7,"y":7.5},{"c":0.96,"x":8,"y":5.4},{"c":0.96,"x":9,"y":2.3},{"c":0.96,"x":10,"y":3.4},{"c":0.96,"x":11,"y":3.2},{"c":0.96,"x":12,"y":5.4},{"c":0.96,"x":13,"y":4.7},{"c":0.96,"x":14,"y":5.2},{"c":0.96,"x":15,"y":4.6},{"c":0.96,"x":16,"y":5.0},{"c":0.96,"x":17,"y":2.2},{"c":0.96,"x":18,"y":1.8},{"c":0.96,"x":19,"y":0.5},{"c":0.96,"x":20,"y":2.2},{"c":0.96,"x":21,"y":1.4},{"c":0.96,"x":22,"y":5.0},{"c":0.96,"x":23,"y":4.0},{"c":0.96,"x":24,"y":3.6},{"c":0.96,"x":25,"y":3.8},{"c":0.96,"x":26,"y":0.4},{"c":0.96,"x":27,"y":-0.6},{"c":0.96,"x":28,"y":-5.0},{"c":0.96,"x":29,"y":-6.8},
{"c":1,"x":0,"y":42.4},{"c":1,"x":1,"y":39.0},{"c":1,"x":2,"y":34.5},{"c":1,"x":3,"y":30.0},{"c":1,"x":4,"y":21.2},{"c":1,"x":5,"y":17.9},{"c":1,"x":6,"y":13.1},{"c":1,"x":7,"y":9.0},{"c":1,"x":8,"y":6.4},{"c":1,"x":9,"y":3.2},{"c":1,"x":10,"y":4.4},{"c":1,"x":11,"y":3.9},{"c":1,"x":12,"y":6.4},{"c":1,"x":13,"y":5.7},{"c":1,"x":14,"y":6.0},{"c":1,"x":15,"y":5.4},{"c":1,"x":16,"y":5.9},{"c":1,"x":17,"y":2.9},{"c":1,"x":18,"y":2.7},{"c":1,"x":19,"y":1.1},{"c":1,"x":20,"y":3.4},{"c":1,"x":21,"y":2.4},{"c":1,"x":22,"y":5.9},{"c":1,"x":23,"y":4.9},{"c":1,"x":24,"y":4.6},{"c":1,"x":25,"y":4.4},{"c":1,"x":26,"y":1.1},{"c":1,"x":27,"y":0.3},{"c":1,"x":28,"y":-4.3},{"c":1,"x":29,"y":-4.8}
 ]},
 "mark": {"type": "line", "strokeWidth": 1.4},
 "encoding": {
  "x": {"field": "x", "type": "quantitative", "scale": {"domain": [0, 30], "nice": false, "zero": false},
        "axis": {"orient": "bottom", "values": [0,5,10,15,20,25,30], "format": "d", "title": "y", "titleX": 607, "titleY": 19, "titleAlign": "center", "titleBaseline": "alphabetic"}},
  "y": {"field": "y", "type": "quantitative", "scale": {"domain": [-80, 80], "nice": false, "zero": false},
        "axis": {"orient": "left", "values": [-80,-60,-40,-20,0,20,40,60,80], "format": "d", "title": "Δφ / °", "titleX": -45, "titleY": 33, "titleAngle": 270, "titleAlign": "center", "titleBaseline": "alphabetic"}},
  "color": {"field": "c", "type": "quantitative", "legend": null,
            "scale": {"domain": [0, 0.11, 0.125, 0.34, 0.375, 0.64, 0.66, 0.89, 0.91, 1], "range": ["#000080", "#0000ff", "#0000ff", "#00dbff", "#14ffe2", "#eeff08", "#ffec00", "#ff1300", "#e80000", "#800000"], "interpolate": "rgb"}},
  "detail": {"field": "c", "type": "nominal"}
 }
},
{
 "data": {"values": [{"a": 0, "b": 29.5, "h": 37.1}, {"a": 0, "b": 29, "h": -25.3}]},
 "mark": {"type": "rule", "color": "black", "strokeWidth": 2},
 "encoding": {
  "x": {"field": "a", "type": "quantitative", "scale": {"domain": [0, 30], "nice": false, "zero": false},
        "axis": {"orient": "top", "values": [0,5,10,15,20,25,30], "labels": false, "title": null}},
  "x2": {"field": "b"},
  "y": {"field": "h", "type": "quantitative", "scale": {"domain": [-80, 80], "nice": false, "zero": false},
        "axis": {"orient": "right", "values": [-80,-60,-40,-20,0,20,40,60,80], "labels": false, "title": null}}
 }
},
{
 "data": {"values": [{"tx": 0.74, "ty": 69.3, "label": "United Crystals A"}, {"tx": 0.74, "ty": 58.5, "label": "3.8mm Displacer"}]},
 "mark": {"type": "text", "align": "left", "baseline": "alphabetic", "fontSize": 27, "font": "DejaVu Sans", "color": "black"},
 "encoding": {
  "x": {"field": "tx", "type": "quantitative", "scale": {"domain": [0, 30], "nice": false, "zero": false}, "axis": null},
  "y": {"field": "ty", "type": "quantitative", "scale": {"domain": [-80, 80], "nice": false, "zero": false}, "axis": null},
  "text": {"field": "label"}
 }
},
{
 "data": {"values": [{"tx": 21.7, "ty": 39.6, "label": "< 60°"}]},
 "mark": {"type": "text", "align": "left", "baseline": "alphabetic", "fontSize": 25, "font": "DejaVu Sans", "color": "black"},
 "encoding": {
  "x": {"field": "tx", "type": "quantitative", "scale": {"domain": [0, 30], "nice": false, "zero": false}, "axis": null},
  "y": {"field": "ty", "type": "quantitative", "scale": {"domain": [-80, 80], "nice": false, "zero": false}, "axis": null},
  "text": {"field": "label"}
 }
}
]
}
